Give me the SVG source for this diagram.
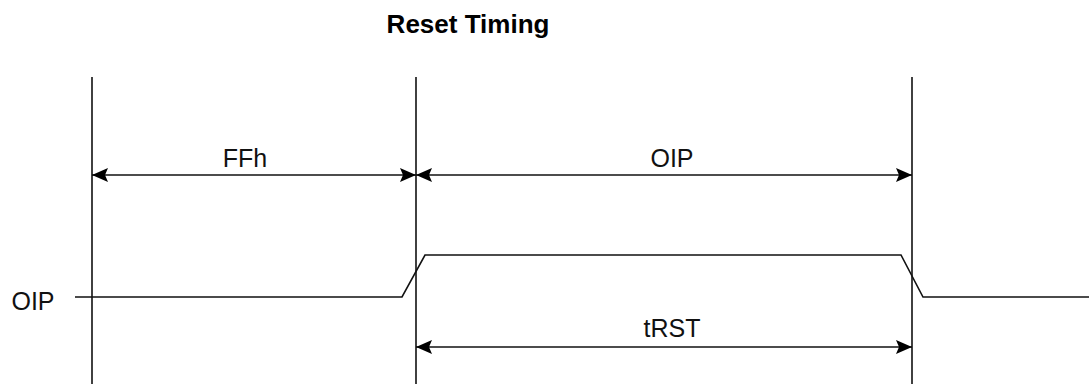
<svg xmlns="http://www.w3.org/2000/svg" width="1089" height="389" viewBox="0 0 1089 389">
  <style>
    .ln { stroke: #111; stroke-width: 1.6; fill: none; }
    .lbl { font-family: "Liberation Sans", Arial, sans-serif; font-size: 25px; fill: #111; }
    .ttl { font-family: "Liberation Sans", Arial, sans-serif; font-size: 26px; font-weight: bold; fill: #000; }
  </style>
  <defs>
    <marker id="ah" viewBox="0 0 16 14" refX="16" refY="7" markerWidth="16" markerHeight="14" markerUnits="userSpaceOnUse" orient="auto-start-reverse">
      <path d="M0,0 L16,7 L0,14 L3,7 Z" fill="#000"/>
    </marker>
  </defs>
  <rect width="1089" height="389" fill="#fff"/>
  <text class="ttl" x="468" y="33" text-anchor="middle">Reset Timing</text>
  <g id="grid">
    <line class="ln" x1="92" y1="77" x2="92" y2="384"/>
    <line class="ln" x1="416" y1="77" x2="416" y2="384"/>
    <line class="ln" x1="912" y1="77" x2="912" y2="384"/>
  </g>
  <g id="signal">
    <text class="lbl" x="33" y="310" text-anchor="middle">OIP</text>
    <polyline class="ln" points="75,297 402,297 425,255 901,255 923,297 1089,297"/>
  </g>
  <g id="connectors">
    <line class="ln" x1="92" y1="175" x2="416" y2="175" marker-start="url(#ah)" marker-end="url(#ah)"/>
    <line class="ln" x1="416" y1="175" x2="912" y2="175" marker-start="url(#ah)" marker-end="url(#ah)"/>
    <line class="ln" x1="416" y1="347" x2="912" y2="347" marker-start="url(#ah)" marker-end="url(#ah)"/>
  </g>
  <g id="labels">
    <text class="lbl" x="245" y="167" text-anchor="middle">FFh</text>
    <text class="lbl" x="672" y="167" text-anchor="middle">OIP</text>
    <text class="lbl" x="672" y="337" text-anchor="middle">tRST</text>
  </g>
</svg>
